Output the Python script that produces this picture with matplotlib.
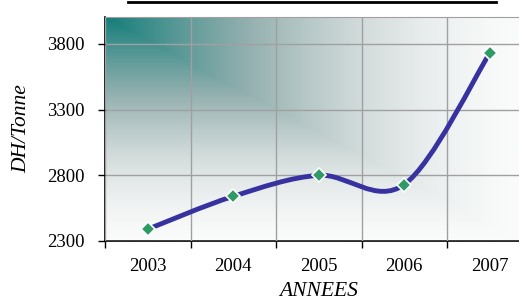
import numpy as np
import matplotlib
matplotlib.use("Agg")
import matplotlib.pyplot as plt
from matplotlib.path import Path
from matplotlib.patches import PathPatch
from matplotlib.colors import LinearSegmentedColormap
from matplotlib.lines import Line2D

# Data
years = ["2003", "2004", "2005", "2006", "2007"]
prix = [2390, 2640, 2800, 2730, 3730]

plt.rcParams['font.family'] = ['Liberation Serif', 'DejaVu Serif']

fig = plt.figure(figsize=(5.19, 3.03), dpi=100)
ax = fig.add_axes([105 / 519, 62 / 303, 427.5 / 519, 224 / 303])

x = np.arange(len(years))
ax.set_xlim(-0.5, len(years) - 0.5)
ax.set_ylim(2300, 4005)

# corner gradient background (teal top-left -> white)
n = 300
u, v = np.meshgrid(np.linspace(0, 1, n), np.linspace(0, 1, n))
s = np.maximum(u, v * 0.97)
t = np.clip(1 - s, 0, 1) ** 1.7
cmap = LinearSegmentedColormap.from_list(
    "bg", [(0, "#fafbfb"), (0.2, "#d4dcdc"), (0.5, "#93b0af"), (1, "#137d7a")])
ax.imshow(t, cmap=cmap, vmin=0, vmax=1, extent=[0, 1, 0, 1], origin="upper",
          transform=ax.transAxes, aspect="auto", zorder=0, interpolation="bilinear")

# grid
ax.set_xticks(np.arange(-0.5, len(years), 1.0))
ax.set_xticklabels([])
ax.set_xticks(x, minor=True)
ax.set_xticklabels(years, minor=True)
ax.set_yticks([2300, 2800, 3300, 3800])
ax.grid(True, color="#a0a0a0", linewidth=1.0, zorder=1)
ax.set_axisbelow(False)

# smoothed line (Catmull-Rom style Bezier through the points)
pts = np.column_stack([x, prix]).astype(float)
ext = np.vstack([pts[0], pts, pts[-1]])
verts = [tuple(pts[0])]
codes = [Path.MOVETO]
for i in range(len(pts) - 1):
    p0, p1, p2, p3 = ext[i], ext[i + 1], ext[i + 2], ext[i + 3]
    c1 = p1 + (p2 - p0) / 6
    c2 = p2 - (p3 - p1) / 6
    verts += [tuple(c1), tuple(c2), tuple(p2)]
    codes += [Path.CURVE4] * 3
ax.add_patch(PathPatch(Path(verts, codes), fill=False, edgecolor="#37329f",
                       linewidth=3.5, capstyle="round", zorder=3))
ax.plot(x, prix, linestyle="none", marker="D", markersize=7,
        markerfacecolor="#2f9a66", markeredgecolor="white", markeredgewidth=1.2, zorder=4)

for side in ["left", "bottom"]:
    ax.spines[side].set_color("black")
    ax.spines[side].set_linewidth(1.2)
ax.spines["top"].set_color("#a0a0a0")
ax.spines["right"].set_visible(False)

ax.tick_params(axis="y", which="major", length=5, width=1, pad=10, labelsize=13.5)
ax.tick_params(axis="x", which="major", length=5, width=1, direction="out")
ax.tick_params(axis="x", which="minor", length=0, pad=12, labelsize=13.5)

ax.set_ylabel("DH/Tonne", fontsize=15.5, style="italic", labelpad=11)
ax.set_xlabel("ANNEES", fontsize=15.5, style="italic", labelpad=5)

# underline of the (cropped) title
fig.add_artist(Line2D([128 / 519, 496 / 519], [1 - 2 / 303, 1 - 2 / 303],
                      color="black", linewidth=2.0))

fig.savefig("out.png", dpi=100)
